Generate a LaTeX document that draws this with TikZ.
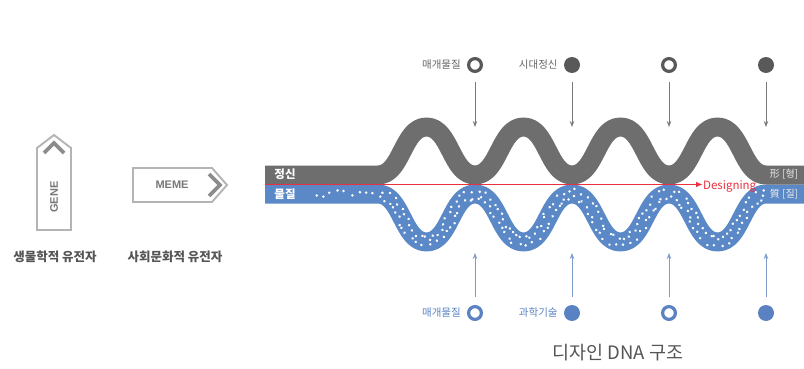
\documentclass[tikz,border=0pt]{standalone}
\usepackage{fontspec}
\setmainfont{Noto Sans CJK KR}
\newfontfamily\lat{Liberation Sans}
\usetikzlibrary{arrows.meta,decorations.markings}
\definecolor{bandgray}{HTML}{6E6E6E}
\definecolor{bandblue}{HTML}{5B88C6}
\definecolor{redline}{HTML}{E8323F}
\definecolor{txtgray}{HTML}{555555}
\definecolor{lblgray}{HTML}{666666}
\definecolor{arrgray}{HTML}{7A7A7A}
\definecolor{arrblue}{HTML}{7E9BCB}
\definecolor{txtblue}{HTML}{5A82C2}
\definecolor{boxgray}{HTML}{B4B4B4}
\definecolor{chevgray}{HTML}{8C8C8C}
\definecolor{markgray}{HTML}{595959}
\tikzset{
  band/.style={line width=19pt, line cap=butt, line join=round},
  opencirc/.style={circle, draw=#1, line width=3.2pt, minimum size=12.8pt, inner sep=0pt},
  fullcirc/.style={circle, fill=#1, minimum size=16pt, inner sep=0pt},
  toplbl/.style={text=#1, font=\fontsize{10.5pt}{12pt}\selectfont, inner sep=0pt},
  inband/.style={text=white, font=\bfseries\fontsize{11.5pt}{13pt}\selectfont, inner sep=0pt},
  inbandr/.style={text=white!92!black, font=\fontsize{10pt}{12pt}\selectfont, inner sep=0pt},
  genlbl/.style={text=txtgray, font=\bfseries\fontsize{12.5pt}{14pt}\selectfont, inner sep=0pt},
  downarr/.style={draw=arrgray, line width=0.9pt, -{Stealth[length=6pt,width=4.5pt]}},
  uparr/.style={draw=arrblue, line width=0.9pt, -{Stealth[length=6pt,width=4.5pt]}},
  boxline/.style={draw=boxgray, line width=1.9pt, line join=miter},
  chev/.style={draw=chevgray, line width=3.8pt, line join=miter},
  symtext/.style={text=chevgray!85!black, font=\lat\bfseries\fontsize{11pt}{13pt}\selectfont, inner sep=0pt},
  dot/.style={fill=white}
}
\newcommand{\bluewave}{(265,194) -- (378,194)
  .. controls +(24,0) and +(-24,0) .. (426.5,242)
  .. controls +(24,0) and +(-24,0) .. (475,194)
  .. controls +(24,0) and +(-24,0) .. (523.5,242)
  .. controls +(24,0) and +(-24,0) .. (572,194)
  .. controls +(24,0) and +(-24,0) .. (620.5,242)
  .. controls +(24,0) and +(-24,0) .. (669,194)
  .. controls +(24,0) and +(-24,0) .. (717.5,242)
  .. controls +(24,0) and +(-24,0) .. (766,194)
  -- (804,194)}
\begin{document}
\begin{tikzpicture}[x=1pt,y=-1pt]
\useasboundingbox (0,0) rectangle (804,369);
\fill[white] (0,0) rectangle (804,369);
\pgfmathsetseed{11}

% blue band (material)
\draw[band, bandblue] \bluewave;
% white dots
\path[decorate, decoration={markings,
  mark=between positions 0.07 and 0.15 step 7pt with {\fill[dot] ({rand*2pt},{rand*5pt}) circle[radius=1.4pt];},
  mark=between positions 0.16 and 0.95 step 6pt with {
     \fill[dot] ({rand*2pt},{3.6pt+rand*2.2pt}) circle[radius=1.4pt];
     \fill[dot] ({rand*2pt},{-3.6pt+rand*2.2pt}) circle[radius=1.4pt];}}]
  \bluewave;

% gray band (spirit)
\draw[band, bandgray] (265,175) -- (378,175)
  .. controls +(24,0) and +(-24,0) .. (426.5,127)
  .. controls +(24,0) and +(-24,0) .. (475,175)
  .. controls +(24,0) and +(-24,0) .. (523.5,127)
  .. controls +(24,0) and +(-24,0) .. (572,175)
  .. controls +(24,0) and +(-24,0) .. (620.5,127)
  .. controls +(24,0) and +(-24,0) .. (669,175)
  .. controls +(24,0) and +(-24,0) .. (717.5,127)
  .. controls +(24,0) and +(-24,0) .. (766,175)
  -- (804,175);

% red designing line
\coordinate (rstart) at (265,184.5);
\node[text=redline, font=\fontsize{11.5pt}{13pt}\selectfont, inner sep=0pt, anchor=west] (des) at (703,186) {Designing};
\draw[redline, line width=1.3pt, -{Latex[length=7pt,width=5.5pt]}] (rstart) -- (rstart -| des.west) ;

% band labels
\node[inband] (jeong) at (285,174.5) {정신};
\node[inband] (mul) at (285,194) {물질};
\node[inbandr] (hyeong) at (784,174.5) {形 [형]};
\node[inbandr] (jil) at (784,194) {質 [질]};

% top markers
\node[opencirc=markgray] (t1) at (475,65) {};
\node[fullcirc=markgray] (t2) at (572,65) {};
\node[opencirc=markgray] (t3) at (669,65) {};
\node[fullcirc=markgray] (t4) at (766,65) {};
\node[toplbl=lblgray, anchor=east] (tl1) at ([xshift=-6pt]t1.west) {매개물질};
\node[toplbl=lblgray, anchor=east] (tl2) at ([xshift=-6pt]t2.west) {시대정신};
\foreach \i/\x in {1/475,2/572,3/669,4/766}{
  \coordinate (ta\i) at (\x,127);
  \draw[downarr] (\x,82) -- (ta\i);
}

% bottom markers
\node[opencirc=txtblue] (b1) at (475,313) {};
\node[fullcirc=txtblue] (b2) at (572,313) {};
\node[opencirc=txtblue] (b3) at (669,313) {};
\node[fullcirc=txtblue] (b4) at (766,313) {};
\node[toplbl=txtblue, anchor=east] (bl1) at ([xshift=-6pt]b1.west) {매개물질};
\node[toplbl=txtblue, anchor=east] (bl2) at ([xshift=-6pt]b2.west) {과학기술};
\foreach \i/\x in {1/475,2/572,3/669,4/766}{
  \coordinate (ba\i) at (\x,253);
  \draw[uparr] (\x,297) -- (ba\i);
}

% GENE symbol
\draw[boxline] (37,230) -- (37,148) -- (54,135) -- (71,148) -- (71,230) -- cycle;
\draw[chev] (44,153) -- (54,143) -- (64,153);
\node[symtext, rotate=90] (gene) at (54,197) {GENE};
\node[genlbl] (genel) at (55,257) {생물학적 유전자};

% MEME symbol
\draw[boxline] (133,168) -- (212,168) -- (227,185) -- (212,202) -- (133,202) -- cycle;
\draw[chev] (209,174) -- (220,185) -- (209,196);
\node[symtext] (meme) at (172,185) {MEME};
\node[genlbl] (memel) at (175,257) {사회문화적 유전자};

% title
\node[text=txtgray, font=\fontsize{18.5pt}{21pt}\selectfont, inner sep=0pt] (title) at (618,353) {디자인 DNA 구조};
\end{tikzpicture}
\end{document}
